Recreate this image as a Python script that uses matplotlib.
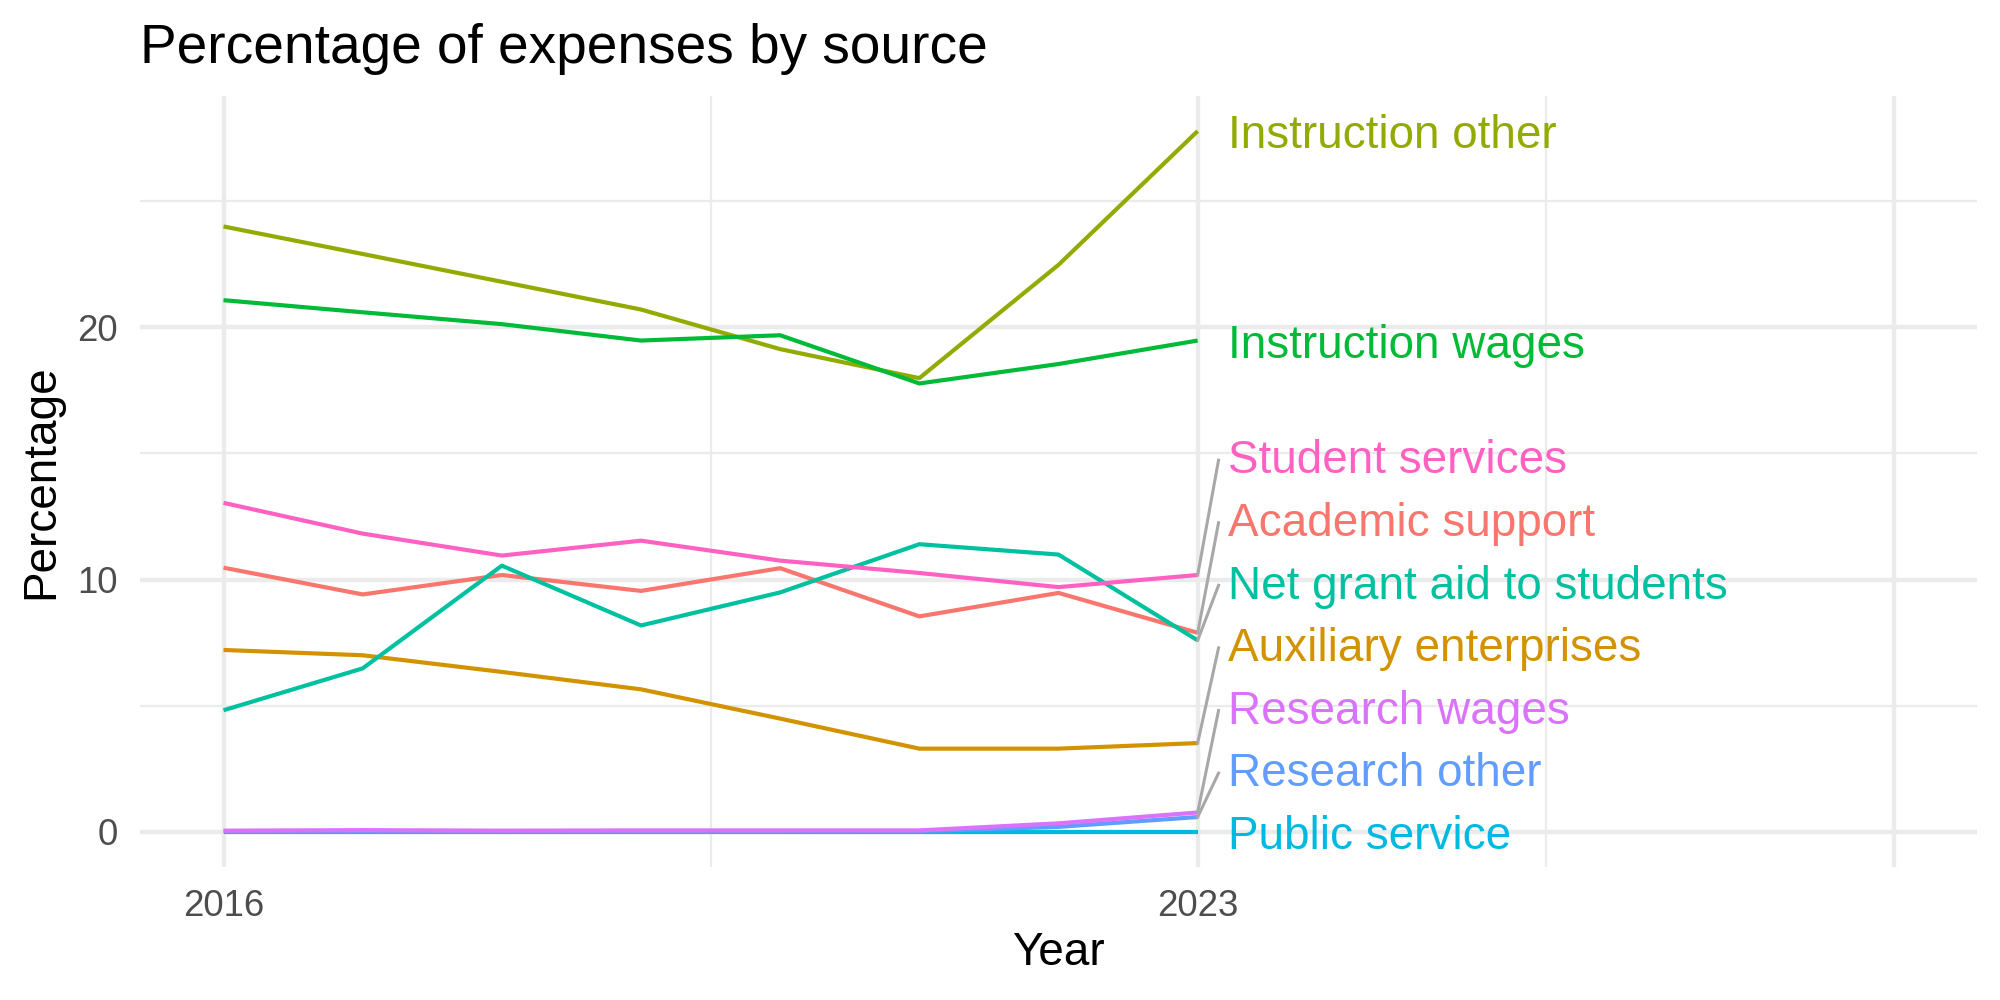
import matplotlib.pyplot as plt

plt.rcParams['font.family'] = ['Liberation Sans', 'DejaVu Sans']

years = [2016, 2017, 2018, 2019, 2020, 2021, 2022, 2023]

# values, percent of expenses
series = {
    "Academic support":        [10.47, 9.41, 10.18, 9.55, 10.45, 8.54, 9.47, 7.89],
    "Auxiliary enterprises":   [7.21, 7.00, 6.34, 5.65, 4.49, 3.30, 3.30, 3.52],
    "Instruction other":       [23.99, 22.90, 21.80, 20.70, 19.13, 17.98, 22.47, 27.77],
    "Instruction wages":       [21.07, 20.59, 20.12, 19.47, 19.68, 17.77, 18.54, 19.47],
    "Net grant aid to students": [4.82, 6.48, 10.55, 8.18, 9.49, 11.40, 10.99, 7.59],
    "Public service":          [0.00, 0.00, 0.00, 0.00, 0.00, 0.00, 0.00, 0.00],
    "Research other":          [0.02, 0.02, 0.02, 0.02, 0.02, 0.03, 0.20, 0.59],
    "Research wages":          [0.05, 0.07, 0.05, 0.06, 0.06, 0.06, 0.34, 0.77],
    "Student services":        [13.04, 11.82, 10.95, 11.54, 10.75, 10.26, 9.70, 10.18],
}

# ggplot default hue palette, in alphabetical order of the sources
colors = ["#F8766D", "#D39200", "#93AA00", "#00BA38", "#00C19F",
          "#00B9E3", "#619CFF", "#DB72FB", "#FF61C3"]

fig = plt.figure(figsize=(20, 10), dpi=100)
ax = fig.add_axes([0.070, 0.133, 0.9185, 0.771])

grid = "#EBEBEB"
for x in [2016, 2023, 2028]:
    ax.axvline(x, color=grid, lw=3.2, zorder=0)
for x in [2019.5, 2025.5]:
    ax.axvline(x, color=grid, lw=1.6, zorder=0)
for y in [0, 10, 20]:
    ax.axhline(y, color=grid, lw=3.2, zorder=0)
for y in [5, 15, 25]:
    ax.axhline(y, color=grid, lw=1.6, zorder=0)

for (name, vals), col in zip(series.items(), colors):
    ax.plot(years, vals, color=col, lw=3.0, solid_capstyle='butt', zorder=2)

# simple bottom-up repel of end labels
ends = sorted([(vals[-1], name, col) for (name, vals), col in zip(series.items(), colors)])
gap = 2.48
prev = None
for v, name, col in ends:
    pos = v if prev is None else max(v, prev + gap)
    prev = pos
    if abs(pos - v) > 0.5:
        ax.plot([2023, 2023.15], [v, pos - 0.15], color="#A8A8A8", lw=2.2, zorder=3)
    ax.text(2023.22, pos - 0.2, name, color=col, fontsize=33, ha='left', va='center', zorder=4)

ax.set_xlim(2015.4, 2028.6)
ax.set_ylim(-1.39, 29.16)
ax.set_xticks([2016, 2023])
ax.set_xticklabels(["2016", "2023"])
ax.set_yticks([0, 10, 20])
ax.tick_params(length=0, labelsize=26.4, labelcolor="#4D4D4D")
ax.tick_params(axis='x', pad=16)
ax.tick_params(axis='y', pad=16)
for s in ax.spines.values():
    s.set_visible(False)

ax.set_xlabel("Year", fontsize=33, labelpad=5)
ax.set_ylabel("Percentage", fontsize=33, labelpad=10)
fig.text(0.070, 0.951, "Percentage of expenses by source", fontsize=39.6,
         ha='left', va='center')

fig.savefig("out.png", dpi=100)
